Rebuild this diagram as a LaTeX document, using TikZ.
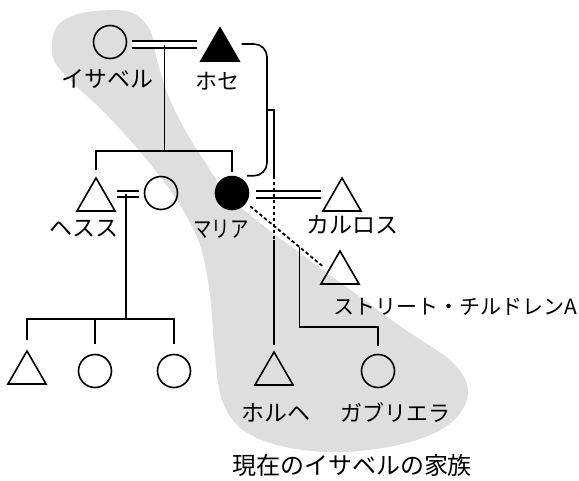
\documentclass[tikz,border=0pt]{standalone}
\usepackage{fontspec}
\newfontfamily\jp{Noto Sans CJK JP}
\usetikzlibrary{calc,shapes.geometric}
\definecolor{blobgray}{RGB}{222,222,222}
\begin{document}
\begin{tikzpicture}[x=1pt,y=-1pt,line width=1.6pt,
  fem/.style={circle,draw,minimum size=33pt,inner sep=0pt,line width=1.6pt},
  mal/.style={regular polygon,regular polygon sides=3,draw,minimum size=44pt,inner sep=0pt,line width=1.6pt},
  lbl/.style={font=\jp\fontsize{23}{23}\selectfont,inner sep=0pt},
  marr/.style={double,double distance=4.5pt,line width=1.8pt},
  relation/.style={line width=1.8pt,dash pattern=on 3.5pt off 2.5pt}]
\useasboundingbox (0,0) rectangle (579,480);
% grey family area
\fill[blobgray] plot[smooth cycle,tension=0.6] coordinates {
 (95,11) (130,12) (150,30) (157,60) (168,95) (185,130) (205,162) (228,195)
 (265,227) (330,275) (400,326) (452,362) (468,392) (452,422) (410,442)
 (345,452) (285,447) (243,430) (222,400) (215,355) (210,295) (200,245)
 (180,205) (155,170) (130,140) (100,108) (72,82) (53,58) (55,30) (70,17)};
% persons
\node[fem] (isabel) at (110,42) {};
\node[mal,fill=black] (jose) at (220,50) {};
\node[mal] (jesus) at (96,200) {};
\node[fem] (wife) at (161,193) {};
\node[fem,fill=black] (maria) at (232,193) {};
\node[mal] (carlos) at (342,200) {};
\node[mal] (streetA) at (340,273) {};
\node[mal] (t1) at (27,373) {};
\node[fem] (c2) at (95,371) {};
\node[fem] (c3) at (174,371) {};
\node[mal] (jorge) at (274,374) {};
\node[fem] (gabriela) at (378,371) {};
% labels
\node[lbl] (lisabel) at (107,79) {イサベル};
\node[lbl,font=\jp\fontsize{22}{22}\selectfont] (ljose) at (217,81) {ホセ};
\node[lbl] (ljesus) at (84,229) {ヘスス};
\node[lbl,font=\jp\fontsize{23}{23}\selectfont] (lmaria) at (221,229) {\scalebox{0.8}[1]{マリア}};
\node[lbl] (lcarlos) at (352,225) {カルロス};
\node[lbl,font=\jp\fontsize{21}{21}\selectfont] (lstreet) at (455,307) {ストリート・チルドレンA};
\node[lbl] (ljorge) at (276,413) {ホルヘ};
\node[lbl,font=\jp\fontsize{22}{22}\selectfont] (lgab) at (395,413) {ガブリエラ};
\node[lbl,font=\jp\fontsize{24}{24}\selectfont] (title) at (352,465) {現在のイサベルの家族};
% Isabel = Jose
\draw[marr] ($(isabel.east)+(5,2.5)$) -- ($(isabel.east -| jose.west)+(-9,2.5)$);
\coordinate (ij) at ($(isabel.east)+(37,2.5)$);
\coordinate (sib1) at ($(ij)+(0,106.5)$);
\draw (ij) -- (sib1);
\draw ($(jesus.north)+(0,-6)$) |- (sib1) -| ($(maria.north)+(0,-4)$);
% Jesus = wife
\draw[marr] ($(wife.west)+(-27,1)$) -- ($(wife.west)+(-5,1)$);
\coordinate (jw) at ($(wife.west)+(-18,1)$);
\coordinate (sib2) at ($(jw)+(0,125)$);
\draw (jw) -- (sib2);
\draw ($(t1.north)+(0,-9)$) |- (sib2) -| ($(c3.north)+(0,-9.5)$);
\draw (sib2 -| c2.north) -- ($(c2.north)+(0,-9.5)$);
% Maria = Carlos
\draw[marr] ($(maria.east)+(7,1.5)$) -- ($(maria.east -| carlos.west)+(-7,1.5)$);
% Jose - Maria relation
\coordinate (jmx) at (267,110);
\draw[rounded corners=13pt] ($(jose.east)+(8,-6)$) -| (jmx) |- ($(maria.north east)+(3,-5)$);
% child of Jose and Maria: Jorge
\coordinate (jx) at (jmx -| jorge.north);
\draw (jmx) -- (jx) -- (jx |- maria.north);
\draw[relation] (jx |- maria.north) -- ($(jorge.north)+(0,-110)$);
\draw ($(jorge.north)+(0,-110)$) -- ($(jorge.north)+(0,-5)$);
% Maria - street child A relation
\coordinate (ma) at ($(maria.south east)+(6,1)$);
\coordinate (sa) at ($(streetA.west)+(-4,-7)$);
\draw[relation] (ma) -- (sa);
\coordinate (gx) at ($(ma)!0.683!(sa)$);
\draw (gx) |- ($(gabriela.north)+(0,-27)$) -- ($(gabriela.north)+(0,-8)$);
\end{tikzpicture}
\end{document}
